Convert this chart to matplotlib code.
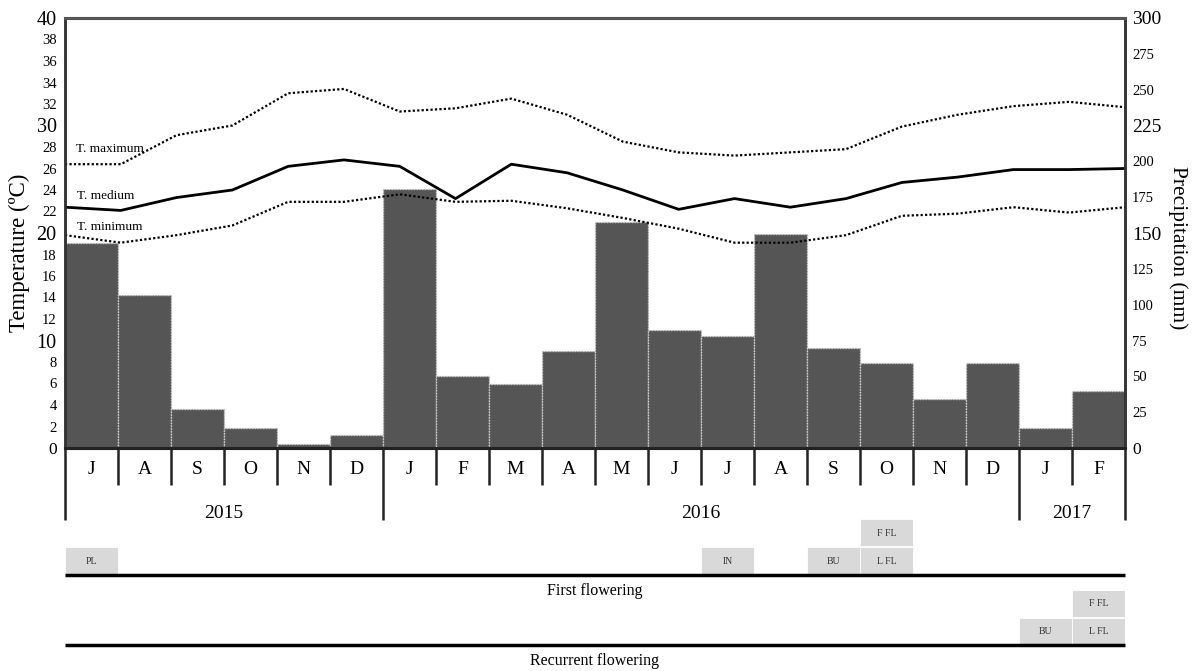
import numpy as np
import matplotlib
matplotlib.use("Agg")
import matplotlib.pyplot as plt
from matplotlib.patches import Rectangle

plt.rcParams['font.family'] = ['Liberation Serif', 'DejaVu Serif']

# Monthly series, July 2015 - February 2017
months = ["J", "A", "S", "O", "N", "D", "J", "F", "M", "A", "M", "J",
          "J", "A", "S", "O", "N", "D", "J", "F"]
years = ["2015", "2016", "2017"]
year_spans = [(0, 6), (6, 18), (18, 20)]

precip_mm = [143, 107, 27, 14, 3, 9, 181, 50, 45, 68, 158, 82,
             78, 149, 70, 59, 34, 59, 14, 40]
t_max = [26.4, 26.4, 29.1, 30.0, 33.0, 33.4, 31.3, 31.6, 32.5, 31.0,
         28.5, 27.5, 27.2, 27.5, 27.8, 29.9, 31.0, 31.8, 32.2, 31.7]
t_med = [22.4, 22.1, 23.3, 24.0, 26.2, 26.8, 26.2, 23.2, 26.4, 25.6,
         24.0, 22.2, 23.2, 22.4, 23.2, 24.7, 25.2, 25.9, 25.9, 26.0]
t_min = [19.8, 19.1, 19.8, 20.7, 22.9, 22.9, 23.6, 22.9, 23.0, 22.3,
         21.4, 20.4, 19.1, 19.1, 19.8, 21.6, 21.8, 22.4, 21.9, 22.4]

# Phenological phases: (label, month index, row) ; row 0 = lower, 1 = upper
first_phases = [("PL", 0, 0), ("IN", 12, 0), ("BU", 14, 0),
                ("L FL", 15, 0), ("F FL", 15, 1)]
recurrent_phases = [("BU", 18, 0), ("L FL", 19, 0), ("F FL", 19, 1)]

W, H = 1195, 671
fig = plt.figure(figsize=(W / 100, H / 100), dpi=100)

x_left, x_right = 65, 1125
y_top, y_base = 18, 448
ax = fig.add_axes([x_left / W, 1 - y_base / H, (x_right - x_left) / W,
                   (y_base - y_top) / H])
axp = ax.twinx()
ax.set_zorder(2)
ax.patch.set_visible(False)

n = len(months)
xb = np.arange(n)
axp.bar(xb, precip_mm, width=1.0, color="#555555", edgecolor="#d0d0d0",
        linestyle=(0, (1, 1)), linewidth=1.0, zorder=1)
axp.set_ylim(0, 300)
axp.set_xlim(-0.5, n - 0.5)

# temperature points spread evenly from edge to edge
xt = np.linspace(-0.5, n - 0.5, n)
ax.plot(xt, t_max, color="black", linestyle=(0, (1, 1)), linewidth=1.6)
ax.plot(xt, t_med, color="black", linestyle="-", linewidth=2.0)
ax.plot(xt, t_min, color="black", linestyle=(0, (1, 1)), linewidth=1.6)
ax.set_xlim(-0.5, n - 0.5)
ax.set_ylim(0, 40)

ax.text(-0.3, 27.25, "T. maximum", fontsize=9.5, ha="left", va="bottom")
ax.text(-0.27, 22.85, "T. medium", fontsize=9.5, ha="left", va="bottom")
ax.text(-0.27, 20.0, "T. minimum", fontsize=9.5, ha="left", va="bottom")

# left ticks
lt = list(range(0, 41, 2))
ax.set_yticks(lt)
ax.set_yticklabels([str(v) for v in lt])
for v, lab in zip(lt, ax.get_yticklabels()):
    if v in (10, 20, 30, 40):
        lab.set_fontsize(14.5)
    elif v == 0:
        lab.set_fontsize(12.5)
    else:
        lab.set_fontsize(10.5)
ax.tick_params(axis="y", length=0, pad=6)
ax.set_xticks([])

rt = list(range(0, 301, 25))
axp.set_yticks(rt)
axp.set_yticklabels([str(v) for v in rt])
for v, lab in zip(rt, axp.get_yticklabels()):
    if v in (150, 225, 300):
        lab.set_fontsize(14)
    elif v == 0:
        lab.set_fontsize(12.5)
    else:
        lab.set_fontsize(10.5)
axp.tick_params(axis="y", length=0, pad=5)

ax.set_ylabel("Temperature (ºC)", fontsize=16.5)
ax.yaxis.set_label_coords(-0.033, 0.453)
axp.set_ylabel("Precipitation (mm)", fontsize=15.5, rotation=270,
               va="bottom")
axp.yaxis.set_label_coords(1.041, 0.465)

for a in (ax, axp):
    a.spines["top"].set_color("#555555")
    a.spines["top"].set_linewidth(2.2)
    a.spines["left"].set_color("#333333")
    a.spines["left"].set_linewidth(1.8)
    a.spines["right"].set_color("#333333")
    a.spines["right"].set_linewidth(1.8)
    a.spines["bottom"].set_color("#222222")
    a.spines["bottom"].set_linewidth(2.2)

# lower panel: month/year table and phenology rows, y in pixels below the base
low = fig.add_axes([x_left / W, 0, (x_right - x_left) / W, (H - y_base) / H])
low.set_xlim(-0.5, n - 0.5)
low.set_ylim(H - y_base, 0)
low.axis("off")

year_edges = {s for s, e in year_spans} | {e for s, e in year_spans}
for b in range(n + 1):
    xe = b - 0.5
    bottom = 72 if b in year_edges else 37
    low.plot([xe, xe], [0, bottom], color="#222222", linewidth=1.8,
             solid_capstyle="butt", clip_on=False)
for i, m in enumerate(months):
    low.text(i, 21, m, ha="center", va="center", fontsize=14)
for (s, e), yr in zip(year_spans, years):
    low.text((s + e - 1) / 2, 66, yr, ha="center", va="center", fontsize=14)

box_color = "#d9d9d9"


def draw_phases(phases, lower_top, height):
    for lab, mi, row in phases:
        y0 = lower_top - row * height
        low.add_patch(Rectangle((mi - 0.5, y0), 1.0, height - 1,
                                facecolor=box_color, edgecolor="white",
                                linewidth=0.6))
        low.text(mi, y0 + height / 2, lab, ha="center", va="center",
                 fontsize=7, color="#333333")


draw_phases(first_phases, 99, 28)
low.plot([-0.5, n - 0.5], [127, 127], color="black", linewidth=2.5,
         solid_capstyle="butt", clip_on=False)
low.text((n - 1) / 2, 143, "First flowering", ha="center", va="center",
         fontsize=11.5)

draw_phases(recurrent_phases, 170, 28)
low.plot([-0.5, n - 0.5], [197, 197], color="black", linewidth=2.5,
         solid_capstyle="butt", clip_on=False)
low.text((n - 1) / 2, 213, "Recurrent flowering", ha="center", va="center",
         fontsize=11.5)

fig.savefig("out.png", dpi=100)
